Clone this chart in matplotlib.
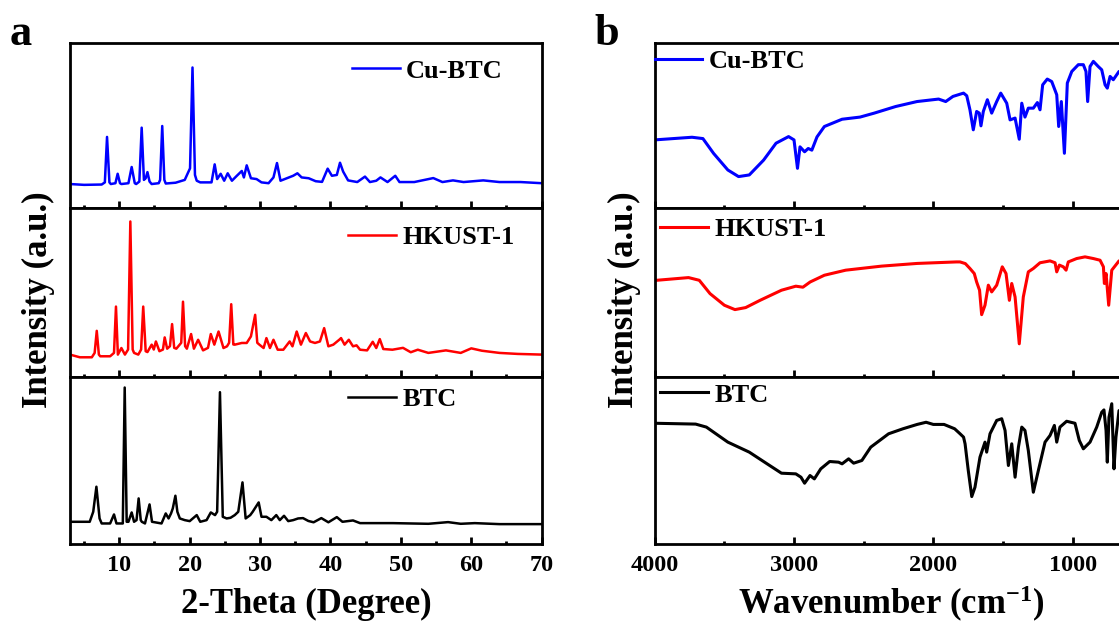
import matplotlib
matplotlib.use("Agg")
import matplotlib.pyplot as plt
from matplotlib.ticker import MultipleLocator

plt.rcParams['font.family'] = ['Liberation Serif', 'DejaVu Serif']
plt.rcParams['font.weight'] = 'bold'
plt.rcParams['mathtext.fontset'] = 'custom'
plt.rcParams['mathtext.rm'] = 'Liberation Serif:bold'
plt.rcParams['mathtext.default'] = 'rm'

# ---- XRD (panel a), intensity in arbitrary units ----
xrd_cubtc_x = [3.0, 5.0, 7.5, 7.95, 8.26, 8.6, 8.8, 9.45, 9.77, 10.1, 10.3, 11.3, 11.76, 12.2, 12.4,
               12.85, 13.18, 13.5, 13.75, 14.0, 14.3, 14.6, 15.6, 15.8, 16.1, 16.4, 16.6, 18.0, 19.3,
               19.8, 20.05, 20.4, 20.75, 21.0, 21.5, 23.1, 23.55, 23.9, 24.4, 24.9, 25.4, 26.0, 26.7,
               27.4, 27.7, 28.1, 28.7, 29.5, 30.2, 31.2, 31.9, 32.4, 32.9, 33.8, 34.7, 35.3, 35.9,
               36.9, 37.9, 38.8, 39.6, 40.2, 40.9, 41.35, 41.8, 42.5, 43.8, 44.9, 45.6, 46.5, 47.1,
               48.1, 49.2, 49.8, 51.9, 54.6, 55.9, 57.4, 58.9, 61.7, 64.0, 67.0, 70.0]
xrd_cubtc_y = [14.5, 14.0, 14.2, 15.5, 43.0, 15.5, 14.5, 15.0, 20.7, 15.0, 14.5, 15.0, 24.8, 15.0, 14.5,
               16.0, 48.6, 17.0, 18.0, 21.7, 16.0, 14.5, 15.0, 17.0, 49.6, 17.0, 14.8, 15.3, 17.0,
               21.7, 24.0, 85.0, 20.0, 16.5, 15.5, 15.5, 26.4, 17.5, 20.7, 16.5, 21.0, 16.5, 19.5,
               22.4, 18.5, 25.8, 18.0, 17.5, 15.5, 15.0, 18.5, 27.2, 16.5, 18.0, 19.5, 21.0, 18.5,
               18.0, 16.2, 15.8, 23.8, 19.5, 20.0, 27.4, 22.0, 16.7, 15.7, 19.0, 15.7, 16.5, 18.5,
               15.7, 19.5, 15.7, 15.7, 18.1, 15.7, 16.7, 15.7, 16.7, 15.7, 15.7, 15.0]

xrd_hkust_x = [3.0, 4.4, 6.1, 6.5, 6.8, 7.1, 7.3, 8.7, 9.25, 9.53, 9.8, 10.3, 10.8, 11.25, 11.57, 11.9,
               12.1, 12.7, 13.1, 13.4, 13.75, 14.0, 14.6, 14.9, 15.2, 15.7, 16.2, 16.45, 16.8, 17.2,
               17.5, 17.8, 18.1, 18.5, 18.8, 19.05, 19.35, 19.6, 20.2, 20.6, 21.2, 21.9, 22.6, 23.0,
               23.5, 24.1, 24.8, 25.3, 25.6, 25.9, 26.2, 26.4, 27.4, 28.1, 28.7, 29.3, 29.6, 29.9,
               30.5, 30.9, 31.4, 31.9, 32.5, 33.3, 34.2, 34.6, 35.2, 35.8, 36.5, 37.1, 37.8, 38.5,
               39.1, 39.7, 40.4, 41.3, 41.5, 42.0, 42.6, 43.2, 43.7, 44.2, 45.2, 46.0, 46.5, 47.0,
               47.5, 48.8, 50.3, 51.4, 52.4, 53.9, 56.4, 58.5, 60.0, 61.5, 64.0, 66.6, 70.0]
xrd_hkust_y = [13.0, 11.4, 11.4, 14.0, 27.1, 13.0, 12.0, 12.0, 14.0, 41.5, 13.0, 16.9, 13.0, 16.0, 92.0, 16.0,
               14.0, 13.0, 16.0, 41.5, 15.0, 14.5, 18.9, 16.0, 20.8, 15.0, 16.0, 23.2, 16.5, 18.0,
               31.1, 17.0, 16.5, 18.5, 20.0, 44.4, 18.0, 16.5, 25.2, 16.5, 21.8, 15.5, 17.0, 25.2,
               18.9, 26.7, 16.9, 17.9, 20.0, 42.9, 19.0, 18.9, 19.9, 19.9, 23.8, 36.6, 20.0, 18.9,
               16.9, 22.8, 16.9, 21.8, 15.9, 15.9, 20.8, 17.9, 26.7, 18.9, 25.8, 20.8, 19.9, 20.8,
               28.7, 17.9, 18.9, 22.0, 22.8, 18.9, 21.8, 17.9, 18.5, 15.9, 15.5, 20.6, 16.9, 22.2,
               16.3, 15.9, 17.0, 14.4, 15.9, 14.0, 15.5, 14.0, 16.7, 15.3, 14.0, 13.4, 13.0]

xrd_btc_x = [3.0, 5.8, 6.3, 6.75, 7.2, 7.5, 8.7, 9.25, 9.6, 10.5, 10.77, 11.05, 11.3, 11.76, 12.1, 12.45,
             12.75, 13.05, 13.2, 13.65, 14.3, 14.65, 16.0, 16.6, 17.0, 17.35, 17.6, 17.97, 18.25, 18.6,
             19.3, 20.0, 21.0, 21.5, 22.4, 23.0, 23.6, 23.9, 24.3, 24.7, 25.25, 25.8, 26.4, 26.9,
             27.5, 27.95, 28.6, 28.95, 29.8, 30.2, 30.9, 31.6, 32.3, 32.8, 33.4, 34.0, 34.7, 35.4,
             36.1, 36.85, 37.6, 38.7, 39.7, 40.9, 41.7, 43.2, 44.2, 48.85, 53.9, 56.7, 58.5, 60.5,
             64.0, 70.0]
xrd_btc_y = [13.0, 13.0, 19.0, 34.0, 15.0, 12.0, 12.0, 17.4, 12.0, 12.0, 93.4, 13.0, 13.0, 18.6, 13.0, 14.0,
             27.0, 14.0, 13.0, 12.0, 23.4, 13.0, 12.0, 18.0, 15.0, 18.0, 21.0, 28.6, 19.0, 15.0,
             14.0, 13.4, 17.0, 13.0, 14.0, 18.6, 17.0, 19.0, 90.6, 16.0, 15.0, 15.4, 17.0, 19.0,
             36.6, 15.0, 17.0, 19.0, 24.6, 16.0, 16.0, 14.0, 17.0, 14.0, 16.6, 13.4, 14.0, 15.0,
             15.2, 13.5, 12.7, 15.2, 12.7, 15.8, 13.0, 13.8, 12.2, 12.2, 11.8, 12.8, 11.8, 12.2,
             11.6, 11.6]

# ---- FTIR (panel b), transmittance in arbitrary units ----
ir_cubtc_x = [4000, 3732, 3654, 3577, 3475, 3398, 3321, 3218, 3129, 3039, 3000, 2975, 2957, 2924, 2898,
              2872, 2835, 2782, 2655, 2526, 2424, 2270, 2117, 1962, 1911, 1859, 1783, 1760, 1737, 1713,
              1689, 1670, 1658, 1641, 1612, 1581, 1545, 1516, 1473, 1449, 1413, 1383, 1365, 1342, 1318,
              1282, 1253, 1234, 1215, 1182, 1150, 1114, 1100, 1081, 1059, 1038, 1006, 959, 923, 904,
              892, 875, 851, 816, 791, 767, 751, 731, 708, 667, 600]
ir_cubtc_y = [41.2, 42.8, 42.0, 33.0, 23.0, 19.0, 20.0, 29.0, 39.2, 43.2, 41.2, 24.0, 37.0, 34.0, 36.0,
              35.0, 43.0, 49.3, 53.7, 55.0, 57.4, 61.4, 64.4, 65.9, 64.4, 67.5, 69.5, 67.9, 59.4, 47.3,
              58.4, 57.4, 49.7, 58.4, 65.5, 57.4, 64.4, 69.5, 63.4, 53.3, 54.4, 41.6, 63.4, 55.0, 60.4,
              60.4, 63.8, 59.4, 74.5, 78.0, 76.5, 68.5, 49.3, 64.4, 33.1, 75.6, 82.6, 86.7, 86.7, 82.6,
              64.4, 85.6, 88.7, 85.6, 83.6, 74.5, 72.5, 79.6, 77.6, 82.6, 80.0]

ir_hkust_x = [4000, 3757, 3680, 3603, 3500, 3424, 3347, 3244, 3090, 2987, 2936, 2884, 2782, 2629, 2372,
              2116, 1834, 1808, 1770, 1737, 1706, 1689, 1668, 1653, 1629, 1605, 1581, 1545, 1505, 1478,
              1454, 1437, 1413, 1383, 1354, 1318, 1282, 1234, 1162, 1126, 1114, 1095, 1067, 1047, 1031,
              971, 911, 851, 803, 779, 772, 760, 741, 719, 667, 600]
ir_hkust_y = [57.0, 58.7, 57.1, 49.2, 42.3, 39.7, 40.9, 45.2, 51.2, 53.6, 53.0, 56.1, 60.1, 63.1, 65.5,
              67.1, 68.0, 68.0, 67.0, 64.1, 61.1, 56.1, 51.2, 36.7, 42.3, 54.2, 50.2, 54.2, 65.1, 61.1,
              45.2, 55.2, 47.2, 19.4, 47.2, 62.1, 64.1, 67.5, 68.6, 67.5, 62.1, 66.1, 65.1, 63.1, 68.0,
              70.0, 71.0, 70.0, 69.0, 65.1, 55.2, 61.1, 42.3, 63.1, 68.6, 68.0]

ir_btc_x = [4000, 3706, 3629, 3475, 3321, 3193, 3090, 2987, 2950, 2924, 2885, 2854, 2808, 2744, 2680,
            2655, 2608, 2572, 2513, 2449, 2321, 2218, 2116, 2052, 2000, 1923, 1847, 1808, 1783, 1772,
            1749, 1724, 1701, 1665, 1629, 1617, 1593, 1545, 1509, 1485, 1461, 1437, 1413, 1389, 1365,
            1342, 1318, 1282, 1246, 1198, 1162, 1131, 1114, 1091, 1043, 983, 952, 923, 875, 827, 791,
            775, 760, 751, 739, 719, 703, 689, 667, 600]
ir_btc_y = [72.0, 71.5, 69.7, 60.7, 54.7, 47.7, 42.1, 41.7, 39.7, 36.1, 40.7, 38.7, 44.7, 49.1, 48.7,
            47.7, 50.7, 48.1, 49.7, 57.7, 65.7, 68.7, 71.3, 72.6, 71.3, 71.3, 68.7, 65.7, 63.7, 59.7,
            43.7, 28.1, 33.7, 51.7, 60.7, 54.7, 65.7, 73.7, 74.7, 67.7, 46.7, 59.7, 39.7, 57.7, 69.7,
            67.7, 55.7, 30.7, 43.7, 60.7, 64.7, 70.7, 60.7, 69.7, 73.2, 72.0, 61.7, 56.7, 60.7, 69.7, 78.6,
            80.0, 67.7, 48.7, 75.6, 83.7, 44.7, 63.7, 79.6, 75.0]

labels = ['Cu-BTC', 'HKUST-1', 'BTC']
colors = ['#0000ff', '#ff0000', '#000000']

W, H = 1119, 628
fig = plt.figure(figsize=(W / 100, H / 100), dpi=100)


def box(x0, x1, y0, y1):
    return [x0 / W, 1 - y1 / H, (x1 - x0) / W, (y1 - y0) / H]


rows = [(42.7, 208.0), (208.0, 376.5), (376.5, 543.5)]


def style(ax, major, minor, show_labels):
    for sp in ax.spines.values():
        sp.set_linewidth(2.0)
    ax.set_yticks([])
    ax.set_ylim(0, 100)
    ax.xaxis.set_major_locator(MultipleLocator(major))
    ax.xaxis.set_minor_locator(MultipleLocator(minor))
    ax.tick_params(axis='x', which='major', direction='in', length=5, width=2, pad=8,
                   labelsize=17.5, labelbottom=show_labels)
    ax.tick_params(axis='x', which='minor', direction='in', length=2.5, width=2)


def add_legend(ax, line, text, fx, fy):
    ax.legend([line], [text], loc='center left', bbox_to_anchor=(fx, fy), frameon=False,
              borderpad=0, borderaxespad=0, handlelength=1.8, handletextpad=0.25,
              prop={'family': 'Liberation Serif', 'weight': 'bold', 'size': 19})


# panel a
xrd_x = [xrd_cubtc_x, xrd_hkust_x, xrd_btc_x]
xrd_y = [xrd_cubtc_y, xrd_hkust_y, xrd_btc_y]
a_leg = [(0.598, 0.83), (0.590, 0.824), (0.590, 0.862)]
for i in range(3):
    ax = fig.add_axes(box(70, 541.7, rows[i][0], rows[i][1]))
    ln, = ax.plot(xrd_x[i], xrd_y[i], color=colors[i], lw=1.8)
    ax.set_xlim(3, 70)
    style(ax, 10, 5, i == 2)
    add_legend(ax, ln, labels[i], *a_leg[i])

# panel b (axis runs past the right edge of the figure)
ir_x = [ir_cubtc_x, ir_hkust_x, ir_btc_x]
ir_y = [ir_cubtc_y, ir_hkust_y, ir_btc_y]
b_leg = [(0.0, 0.887), (0.011, 0.873), (0.011, 0.89)]
for i in range(3):
    ax = fig.add_axes(box(654.7, 1156.2, rows[i][0], rows[i][1]))
    ln, = ax.plot(ir_x[i], ir_y[i], color=colors[i], lw=2.2)
    ax.set_xlim(4000, 400)
    style(ax, 1000, 500, i == 2)
    add_legend(ax, ln, labels[i], *b_leg[i])

fig.text(306 / W, 1 - 604 / H, '2-Theta (Degree)', ha='center', va='center', fontsize=25)
fig.text(891 / W, 1 - 604 / H, 'Wavenumber (cm$^{-1}$)', ha='center', va='center', fontsize=25)
fig.text(38 / W, 1 - 300 / H, 'Intensity (a.u.)', ha='center', va='center', rotation=90, fontsize=25)
fig.text(624 / W, 1 - 300 / H, 'Intensity (a.u.)', ha='center', va='center', rotation=90, fontsize=25)
fig.text(10 / W, 1 - 45 / H, 'a', ha='left', va='baseline', fontsize=32)
fig.text(594 / W, 1 - 45 / H, 'b', ha='left', va='baseline', fontsize=32)

fig.savefig('out.png', dpi=100)
